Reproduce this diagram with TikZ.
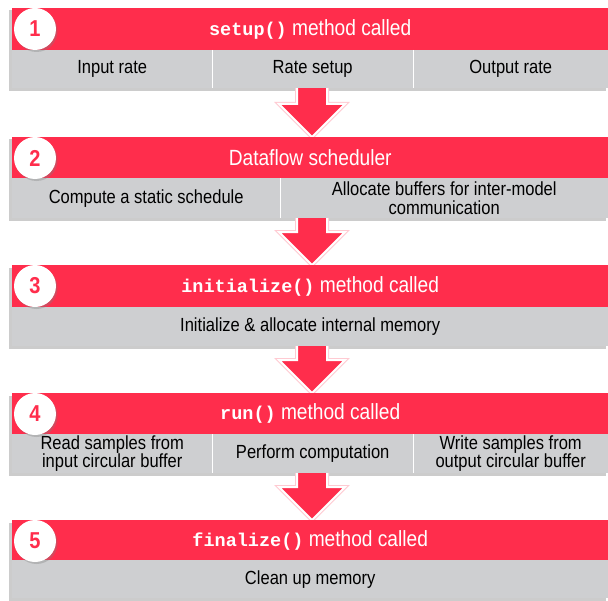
\documentclass[tikz,border=0pt]{standalone}
\usepackage{fontspec}
\setmainfont{Liberation Sans}[FakeStretch=0.87]
\setmonofont{Liberation Mono}
\usetikzlibrary{shadows,calc}
\definecolor{myred}{RGB}{255,45,76}
\definecolor{mygray}{RGB}{206,207,209}
\newcommand\codefn[1]{{\ttfamily\bfseries\fontsize{18.5bp}{20bp}\selectfont #1}}
\pgfdeclarelayer{bg}
\pgfsetlayers{bg,main}
\tikzset{
  hdr/.style={fill=myred, minimum width=596bp, anchor=north west, inner sep=0pt,
    text=white, font=\fontsize{22bp}{24bp}\selectfont},
  cell/.style={fill=mygray, anchor=north west, inner sep=0pt, align=center,
    text=black, font=\fontsize{19bp}{18.5bp}\selectfont},
  blockshadow/.style={fill=black, opacity=0.2},
  badge/.style={circle, fill=white, minimum size=42bp, inner sep=0pt, text=myred,
    font=\bfseries\fontsize{23bp}{24bp}\selectfont,
    drop shadow={shadow xshift=1.5bp, shadow yshift=-2bp, opacity=0.35}},
  divider/.style={white, line width=1.5bp},
  flowglow/.style={draw=myred!25, line width=4bp, line join=miter},
  flowarrow/.style={fill=myred, draw=white, line width=2bp, line join=miter},
}
\newcommand\flowconnect[2]{%
  \path let \p1=(#1.south), \p2=(#2.north) in
    coordinate (A) at (297bp,\y1+3bp) coordinate (B) at (297bp,\y2+33bp)
    coordinate (C) at (279bp,\y2+33bp) coordinate (D) at (312bp,\y2)
    coordinate (E) at (345bp,\y2+33bp) coordinate (F) at (327bp,\y2+33bp)
    coordinate (G) at (327bp,\y1+3bp);
  \begin{pgfonlayer}{bg}
  \draw[flowglow] (A) -- (B) -- (C) -- (D) -- (E) -- (F) -- (G);
  \draw[flowarrow] (A) -- (B) -- (C) -- (D) -- (E) -- (F) -- (G) -- cycle;
  \end{pgfonlayer}}
\newcommand\blockshadow[2]{%
  \begin{pgfonlayer}{bg}
  \fill[blockshadow] ([xshift=-3bp,yshift=-2.5bp]#1.north west) rectangle ([xshift=-2bp,yshift=-3bp]#2.south east);
  \end{pgfonlayer}}
\begin{document}
\begin{tikzpicture}[x=1bp,y=-1bp]
\begin{pgfonlayer}{bg}
\fill[white] (0,0) rectangle (608,601);
\end{pgfonlayer}
\useasboundingbox (0,0) rectangle (608,601);

% Block 1
\node[hdr, minimum height=42bp] (r1) at (12,8) {\codefn{setup()} method called};
\node[cell, minimum width=200bp, minimum height=38bp] (g1a) at (12,50) {Input rate};
\node[cell, minimum width=201bp, minimum height=38bp] (g1b) at (212,50) {Rate setup};
\node[cell, minimum width=195bp, minimum height=38bp] (g1c) at (413,50) {Output rate};
\draw[divider] (g1a.north east) -- (g1a.south east);
\draw[divider] (g1b.north east) -- (g1b.south east);
\node[badge] (b1) at (35,29) {1};
\blockshadow{r1}{g1c}

% Block 2
\node[hdr, minimum height=41bp] (r2) at (12,137) {Dataflow scheduler};
\node[cell, minimum width=268bp, minimum height=40bp] (g2a) at (12,178) {Compute a static schedule};
\node[cell, minimum width=328bp, minimum height=40bp] (g2b) at (280,178) {Allocate buffers for inter-model\\communication};
\draw[divider] (g2a.north east) -- (g2a.south east);
\node[badge] (b2) at (35,158) {2};
\blockshadow{r2}{g2b}

% Block 3
\node[hdr, minimum height=42bp] (r3) at (12,265) {\codefn{initialize()} method called};
\node[cell, minimum width=596bp, minimum height=39bp] (g3) at (12,307) {Initialize \& allocate internal memory};
\node[badge] (b3) at (35,286) {3};
\blockshadow{r3}{g3}

% Block 4
\node[hdr, minimum height=41bp] (r4) at (12,393) {\codefn{run()} method called};
\node[cell, minimum width=200bp, minimum height=39bp] (g4a) at (12,434) {Read samples from\\input circular buffer};
\node[cell, minimum width=201bp, minimum height=39bp] (g4b) at (212,434) {Perform computation};
\node[cell, minimum width=195bp, minimum height=39bp] (g4c) at (413,434) {Write samples from\\output circular buffer};
\draw[divider] (g4a.north east) -- (g4a.south east);
\draw[divider] (g4b.north east) -- (g4b.south east);
\node[badge] (b4) at (35,414) {4};
\blockshadow{r4}{g4c}

% Block 5
\node[hdr, minimum height=40bp] (r5) at (12,520) {\codefn{finalize()} method called};
\node[cell, minimum width=596bp, minimum height=38bp] (g5) at (12,560) {Clean up memory};
\node[badge] (b5) at (35,541) {5};
\blockshadow{r5}{g5}

% Arrows
\flowconnect{g1b}{r2}
\flowconnect{g2b}{r3}
\flowconnect{g3}{r4}
\flowconnect{g4b}{r5}
\end{tikzpicture}
\end{document}
